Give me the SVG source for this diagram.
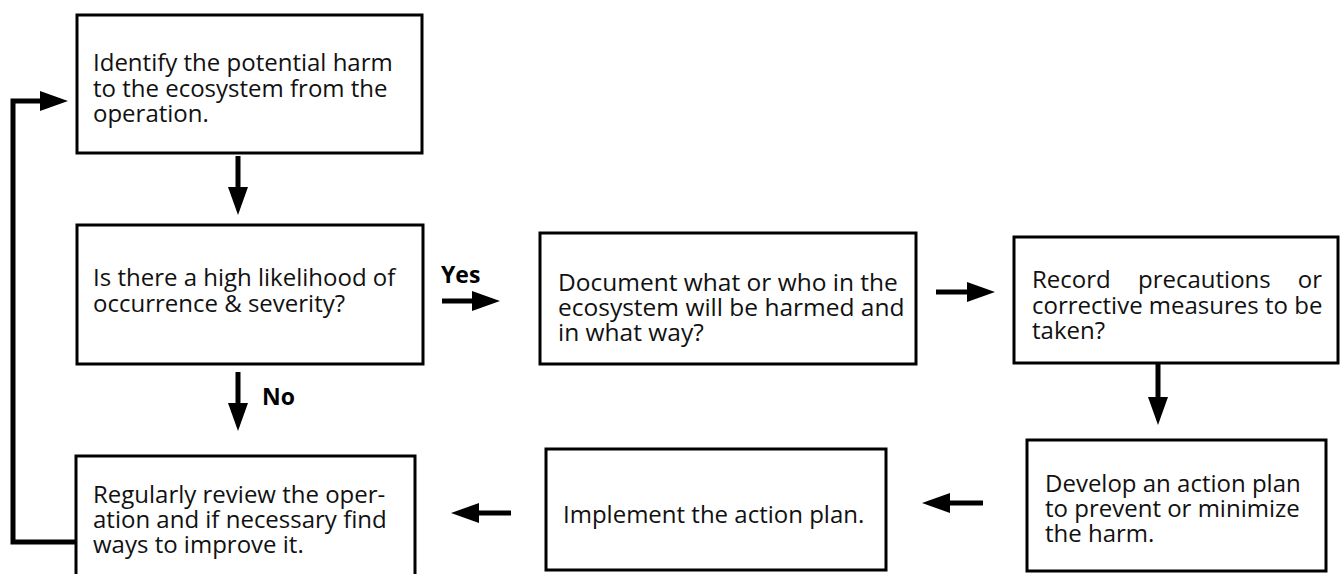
<svg xmlns="http://www.w3.org/2000/svg" width="1343" height="574" viewBox="0 0 1343 574">
<style>
.box{fill:#fff;stroke:#000;stroke-width:3}
.t{font-family:"Open Sans","Noto Sans","Liberation Sans",sans-serif;font-size:24px;fill:#111}
.lbl{font-family:"Open Sans","Noto Sans","Liberation Sans",sans-serif;font-size:23px;font-weight:bold;fill:#000}
.c{fill:none;stroke:#000;stroke-width:5;marker-end:url(#ah)}
</style>
<defs>
<marker id="ah" markerUnits="userSpaceOnUse" markerWidth="28" markerHeight="20" refX="0" refY="10" orient="auto" overflow="visible">
<path d="M0,0 L28,10 L0,20 Z" fill="#000"/>
</marker>
</defs>
<rect width="1343" height="574" fill="#fff"/>
<g id="connectors">
<path class="c" d="M238,156 V187"/>
<path class="c" d="M442,301 H472"/>
<path class="c" d="M936,292 H967"/>
<path class="c" d="M238,372 V403"/>
<path class="c" d="M1158,364 V397"/>
<path class="c" d="M983,503 H950"/>
<path class="c" d="M511,513 H479"/>
<path class="c" d="M76,542 H13 V101 H40"/>
<text class="lbl" x="441" y="283">Yes</text>
<text class="lbl" x="262" y="405">No</text>
</g>
<g id="n1">
<rect class="box" x="77" y="15" width="345" height="138"/>
<text class="t" x="93" y="71">Identify the potential harm</text>
<text class="t" x="93" y="97">to the ecosystem from the</text>
<text class="t" x="93" y="122">operation.</text>
</g>
<g id="n2">
<rect class="box" x="77" y="225" width="346" height="139"/>
<text class="t" x="93" y="286">Is there a high likelihood of</text>
<text class="t" x="93" y="312">occurrence &amp; severity?</text>
</g>
<g id="n3">
<rect class="box" x="540" y="233" width="376" height="131"/>
<text class="t" x="558" y="291" style="font-size:24.5px">Document what or who in the</text>
<text class="t" x="558" y="316" style="font-size:24.5px">ecosystem will be harmed and</text>
<text class="t" x="558" y="341" style="font-size:24.5px">in what way?</text>
</g>
<g id="n4">
<rect class="box" x="1014" y="237" width="324" height="126"/>
<text class="t" x="1032" y="288">Record</text>
<text class="t" x="1138" y="288">precautions</text>
<text class="t" x="1322" y="288" text-anchor="end">or</text>
<text class="t" x="1032" y="314">corrective measures to be</text>
<text class="t" x="1032" y="339">taken?</text>
</g>
<g id="n5">
<rect class="box" x="1027" y="440" width="299" height="131"/>
<text class="t" x="1045" y="492">Develop an action plan</text>
<text class="t" x="1045" y="517">to prevent or minimize</text>
<text class="t" x="1045" y="542">the harm.</text>
</g>
<g id="n6">
<rect class="box" x="546" y="449" width="340" height="121"/>
<text class="t" x="563" y="523">Implement the action plan.</text>
</g>
<g id="n7">
<rect class="box" x="76" y="456" width="339" height="130"/>
<text class="t" x="93" y="503">Regularly review the oper-</text>
<text class="t" x="93" y="528">ation and if necessary find</text>
<text class="t" x="93" y="553">ways to improve it.</text>
</g>
</svg>
